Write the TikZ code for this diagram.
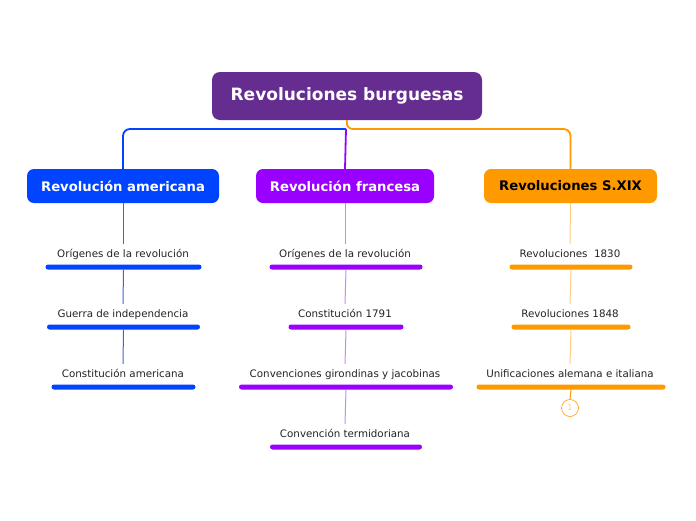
\documentclass[tikz,border=0pt]{standalone}
\usepackage{fontspec}
\setmainfont{DejaVu Sans}
\definecolor{rootc}{HTML}{662D91}
\definecolor{bluec}{HTML}{0044FF}
\definecolor{purc}{HTML}{9900FF}
\definecolor{orac}{HTML}{FF9900}
\definecolor{purl}{HTML}{C987FF}
\definecolor{oral}{HTML}{FFCC85}
\definecolor{bluel}{HTML}{3F63D8}
\definecolor{txt}{HTML}{222222}
\begin{document}
\begin{tikzpicture}[x=1pt,y=-1pt,
  rootbox/.style={fill=rootc,rounded corners=8pt,minimum width=270pt,minimum height=48pt,text=white,font=\bfseries\fontsize{17}{20}\selectfont,inner sep=0pt},
  mainbox/.style={rounded corners=7pt,minimum height=34pt,inner sep=0pt,font=\bfseries\fontsize{13.2}{15}\selectfont},
  subtext/.style={text=txt,font=\fontsize{10.3}{12}\selectfont,inner sep=0pt,text height=8pt,text depth=2pt},
  bar/.style={rounded corners=2.5pt,minimum height=5pt,inner sep=0pt},
  link/.style={line width=1.8pt,rounded corners=7pt},
  thin/.style={line width=1pt}]
\useasboundingbox (0,0) rectangle (696,520);
% root
\node[rootbox] (root) at (347,96) {\raisebox{-2pt}{Revoluciones burguesas}};
% main boxes
\node[mainbox,fill=bluec,text=white,minimum width=192pt] (am) at (123,186) {Revolución americana};
\node[mainbox,fill=purc,text=white,minimum width=178pt] (fr) at (345,186) {Revolución francesa};
\node[mainbox,fill=orac,text=black,minimum width=173pt] (xx) at (570.5,186) {Revoluciones S.XIX};
\coordinate (hub) at (346,129);
\draw[link,orac] (root.south) -- (hub) -| (xx.north);
\draw[link,bluec] (hub) -| (am.north);
\draw[link,purc,rounded corners=0pt] (hub) -- (fr.north);
% american column
\node[subtext] (a1) at (123,254) {Orígenes de la revolución};
\node[bar,fill=bluec,minimum width=156pt] (a1b) at (123.5,267) {};
\node[subtext] (a2) at (123,314) {Guerra de independencia};
\node[bar,fill=bluec,minimum width=153pt] (a2b) at (123.5,327) {};
\node[subtext] (a3) at (123,374) {Constitución americana};
\node[bar,fill=bluec,minimum width=144pt] (a3b) at (123.5,387) {};
\draw[thin,bluel] (am.south) -- ([yshift=5pt]a1.north);
\draw[thin,bluel] (a1b.south) -- ([yshift=5pt]a2.north);
\draw[thin,bluel] (a2b.south) -- ([yshift=5pt]a3.north);
% french column
\node[subtext] (f1) at (345,254) {Orígenes de la revolución};
\node[bar,fill=purc,minimum width=153pt] (f1b) at (346,267) {};
\node[subtext] (f2) at (345,314) {Constitución 1791};
\node[bar,fill=purc,minimum width=115pt] (f2b) at (346,327) {};
\node[subtext] (f3) at (345,374) {Convenciones girondinas y jacobinas};
\node[bar,fill=purc,minimum width=214pt] (f3b) at (346,387) {};
\node[subtext] (f4) at (345,434) {Convención termidoriana};
\node[bar,fill=purc,minimum width=152pt] (f4b) at (346,447) {};
\draw[thin,purl] (fr.south) -- ([yshift=5pt]f1.north);
\draw[thin,purl] (f1b.south) -- ([yshift=5pt]f2.north);
\draw[thin,purl] (f2b.south) -- ([yshift=5pt]f3.north);
\draw[thin,purl] (f3b.south) -- ([yshift=5pt]f4.north);
% xix column
\node[subtext] (x1) at (570,254) {Revoluciones\ \ 1830};
\node[bar,fill=orac,minimum width=123pt] (x1b) at (571,267) {};
\node[subtext] (x2) at (570,314) {Revoluciones 1848};
\node[bar,fill=orac,minimum width=119pt] (x2b) at (571,327) {};
\node[subtext] (x3) at (570,374) {Unificaciones alemana e italiana};
\node[bar,fill=orac,minimum width=189pt] (x3b) at (571,387) {};
\draw[thin,oral] (xx.south) -- ([yshift=5pt]x1.north);
\draw[thin,oral] (x1b.south) -- ([yshift=5pt]x2.north);
\draw[thin,oral] (x2b.south) -- ([yshift=5pt]x3.north);
\node[circle,draw=orac,line width=0.6pt,minimum size=17pt,inner sep=0pt,text=oral,font=\fontsize{8}{9}\selectfont] (cnt) at (570,408) {1};
\draw[thin,orac] (x3b.south) -- (cnt.north);
\end{tikzpicture}
\end{document}
